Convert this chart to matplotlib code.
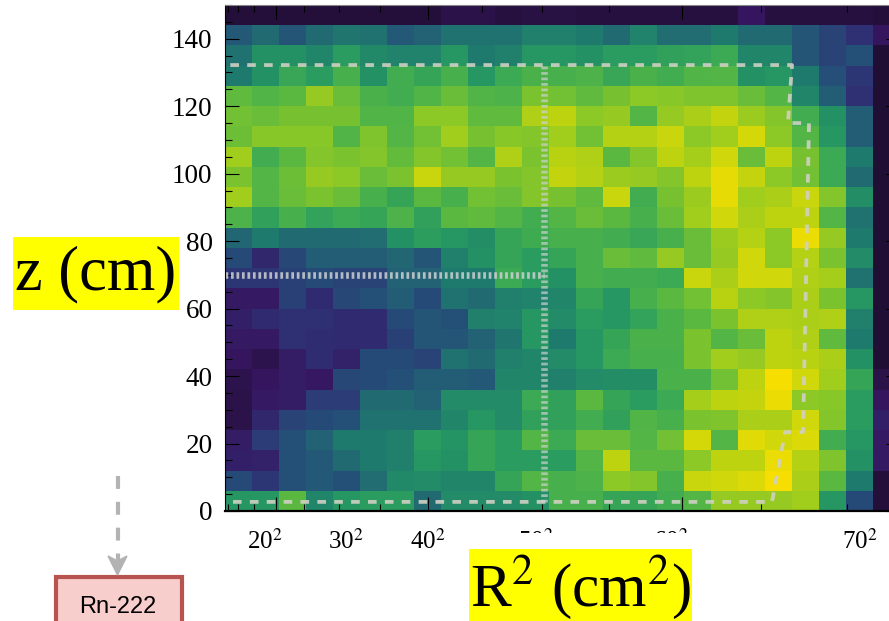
import matplotlib
matplotlib.use('Agg')
import matplotlib.pyplot as plt
import numpy as np
from matplotlib.colors import LinearSegmentedColormap
from matplotlib.patches import Polygon, Rectangle

W, H = 889, 621

# Map values, top row first (0 = dark, 1 = bright yellow)
cells = np.array([
    [.03, .03, .03, .03, .03, .03, .03, .03, .06, .06, .04, .05, .05, .04, .04, .04, .04, .04, .04, .10, .04, .04, .04, .04, .03],
    [.32, .36, .31, .36, .39, .38, .32, .34, .38, .38, .38, .42, .42, .40, .36, .43, .37, .37, .40, .36, .36, .31, .26, .20, .10],
    [.38, .48, .48, .44, .52, .45, .43, .43, .50, .40, .42, .50, .50, .48, .52, .52, .54, .55, .58, .44, .44, .31, .26, .30, .02],
    [.40, .48, .57, .52, .62, .48, .60, .56, .62, .50, .58, .63, .62, .64, .57, .63, .60, .65, .66, .48, .50, .40, .29, .22, .02],
    [.70, .65, .68, .82, .72, .63, .60, .65, .72, .65, .64, .76, .74, .70, .75, .80, .79, .77, .77, .72, .66, .44, .33, .20, .02],
    [.74, .72, .75, .75, .75, .65, .65, .80, .80, .70, .70, .87, .90, .80, .82, .66, .82, .86, .91, .83, .78, .60, .48, .33, .02],
    [.73, .79, .79, .79, .65, .77, .66, .74, .84, .75, .79, .78, .84, .74, .88, .88, .92, .80, .84, .94, .80, .66, .50, .33, .02],
    [.84, .60, .68, .78, .76, .78, .71, .78, .74, .66, .87, .76, .89, .87, .68, .78, .90, .85, .93, .72, .90, .75, .58, .40, .02],
    [.76, .66, .73, .82, .80, .72, .76, .92, .82, .82, .76, .78, .91, .88, .83, .82, .78, .90, .97, .91, .80, .74, .58, .36, .02],
    [.84, .66, .72, .76, .72, .62, .56, .68, .62, .74, .72, .78, .75, .70, .92, .60, .75, .83, .97, .84, .86, .92, .78, .47, .02],
    [.64, .54, .62, .55, .58, .56, .64, .54, .68, .70, .66, .60, .66, .72, .68, .62, .72, .84, .93, .86, .90, .90, .66, .38, .02],
    [.35, .40, .36, .36, .36, .37, .48, .53, .50, .47, .56, .59, .62, .62, .60, .57, .62, .72, .83, .88, .80, .98, .82, .40, .02],
    [.28, .17, .27, .33, .33, .33, .35, .31, .42, .48, .56, .52, .56, .62, .72, .70, .82, .72, .82, .93, .80, .88, .76, .46, .02],
    [.22, .22, .25, .28, .26, .26, .34, .34, .40, .40, .58, .52, .48, .62, .60, .60, .58, .92, .86, .93, .93, .87, .85, .38, .02],
    [.12, .12, .25, .18, .27, .30, .33, .28, .38, .36, .42, .43, .44, .56, .50, .62, .68, .74, .89, .80, .78, .86, .76, .50, .02],
    [.14, .18, .20, .20, .18, .18, .28, .31, .30, .42, .43, .50, .46, .52, .50, .55, .63, .68, .76, .87, .87, .86, .87, .42, .02],
    [.12, .12, .20, .19, .18, .18, .25, .31, .31, .34, .39, .50, .40, .50, .56, .63, .63, .76, .66, .72, .90, .87, .70, .40, .02],
    [.10, .07, .13, .19, .15, .28, .28, .26, .38, .36, .42, .44, .46, .50, .58, .62, .62, .76, .84, .82, .90, .89, .86, .48, .02],
    [.07, .10, .13, .11, .27, .28, .30, .33, .33, .32, .44, .44, .42, .46, .47, .47, .63, .63, .74, .90, 1.0, .93, .84, .56, .06],
    [.06, .12, .13, .24, .24, .36, .36, .34, .46, .46, .46, .58, .54, .68, .56, .52, .58, .85, .90, .91, .98, .80, .79, .52, .10],
    [.06, .17, .26, .28, .30, .38, .38, .38, .44, .50, .46, .54, .54, .60, .54, .65, .62, .76, .77, .86, .86, .93, .78, .52, .14],
    [.13, .24, .30, .34, .40, .40, .42, .52, .49, .56, .52, .66, .58, .72, .72, .66, .74, .94, .66, .96, .93, .95, .60, .50, .12],
    [.14, .15, .30, .32, .36, .40, .42, .50, .48, .56, .52, .52, .52, .66, .90, .68, .68, .80, .90, .90, .98, .88, .77, .48, .12],
    [.28, .22, .30, .32, .30, .37, .45, .46, .44, .44, .56, .66, .62, .64, .80, .78, .62, .92, .93, .95, 1.0, .86, .68, .40, .03],
    [.50, .50, .68, .44, .50, .52, .52, .36, .46, .46, .46, .48, .62, .62, .56, .56, .60, .66, .82, .82, .82, .84, .50, .28, .03],
])

# dashed fiducial boundary
fid_r2 = [63, 4312, 4415, 4557, 4604, 4438, 4470, 0]
fid_z = [2.7, 2.7, 23.4, 23.4, 115, 115, 132.2, 132.2]
# dotted sub-volume lines
dot_r2 = [0, 2515, 2515]
dot_z = [70, 70, 132.2]

yticks_major = [0, 20, 40, 60, 80, 100, 120, 140]
yticks_minor = np.arange(0, 151, 5)
xticks_major = np.array([20, 40, 60]) ** 2
xticks_minor = np.arange(5, 75, 5) ** 2
xlabels = ['20', '30', '40', '50', '60', '70']
xlabel_px = [265, 346, 428, 536, 671, 860]

plt.rcParams['font.family'] = ['Liberation Serif', 'DejaVu Serif']
plt.rcParams['mathtext.fontset'] = 'stix'

colors = ['#1c0c2a', '#36165f', '#2f2f74', '#245178', '#1f7a6e', '#259763',
          '#41ad50', '#5fba3e', '#8cc826', '#bdd310', '#f6de00']
cmap = LinearSegmentedColormap.from_list('dark_viridis', colors)

fig = plt.figure(figsize=(W / 100, H / 100), dpi=100)

# the map runs off the right side of the picture, like in the original
x_max = 5325
ax_w = x_max * 0.12685
ax = fig.add_axes([225 / W, 1 - 511 / H, ax_w / W, 506 / H])
ax.pcolormesh(np.linspace(0, x_max, 26), np.linspace(150, 0, 26), cells,
              cmap=cmap, vmin=0, vmax=1)
ax.set_xlim(0, x_max)
ax.set_ylim(0, 150)

ax.set_xticks(xticks_major)
ax.set_xticks(xticks_minor, minor=True)
ax.set_yticks(yticks_major)
ax.set_yticks(yticks_minor, minor=True)
ax.set_xticklabels([])
ax.tick_params(which='major', direction='in', length=10, width=0.8,
               top=True, right=True, labelsize=19.5, pad=9)
ax.tick_params(which='minor', direction='in', length=5, width=0.8,
               top=True, right=True)
for side in ['left', 'right']:
    ax.spines[side].set_linewidth(0.8)
ax.spines['bottom'].set_linewidth(1.6)
ax.spines['top'].set_color('#888888')

ax.plot(fid_r2, fid_z, color='#d0d0c4', lw=2.7, alpha=0.9,
        dashes=(2.3, 2.2), dash_capstyle='butt')
ax.plot(dot_r2[:2], dot_z[:2], color='#ccd0d2', lw=4.7, alpha=0.85,
        dashes=(0.42, 0.42))
ax.plot([dot_r2[1], dot_r2[2]], [2.7, dot_z[2]], color='#ccd0d2', lw=4.7,
        alpha=0.7, dashes=(0.42, 0.42))

# overlay in pixel coordinates for the pasted-on labels and the diagram box
over = fig.add_axes([0, 0, 1, 1], zorder=5)
over.set_xlim(0, W)
over.set_ylim(H, 0)
over.axis('off')
over.patch.set_alpha(0)

for lab, px in zip(xlabels, xlabel_px):
    over.text(px, 541, f'{lab}$^2$', fontsize=18, ha='center', va='center')

over.add_patch(Rectangle((469, 533), 223, 16, fc='white', ec='none', zorder=3))
over.add_patch(Rectangle((469, 549), 223, 72, fc='#ffff00', ec='none', zorder=3))
over.text(580, 587, 'R$^2$ (cm$^2$)', fontsize=44, ha='center', va='center',
          zorder=4)

over.add_patch(Rectangle((13, 237), 166, 73, fc='#ffff00', ec='none', zorder=3))
over.text(96, 274, 'z (cm)', fontsize=45, ha='center', va='center', zorder=4)

over.add_patch(Rectangle((55.5, 576.5), 126, 70, fc='#f8cecc', ec='#b85450',
                         lw=3, zorder=3))
over.text(118, 607, 'Rn-222', fontsize=17, family='Liberation Sans',
          ha='center', va='center', zorder=4)
over.plot([117.5, 117.5], [476, 560], color='#b3b3b3', lw=3,
          dashes=(3.1, 3.1))
over.add_patch(Polygon([(117.5, 575), (108, 556), (117.5, 561), (127, 556)],
                       fc='#b3b3b3', ec='#b3b3b3', lw=1, zorder=4))

fig.savefig('out.png', dpi=100)
